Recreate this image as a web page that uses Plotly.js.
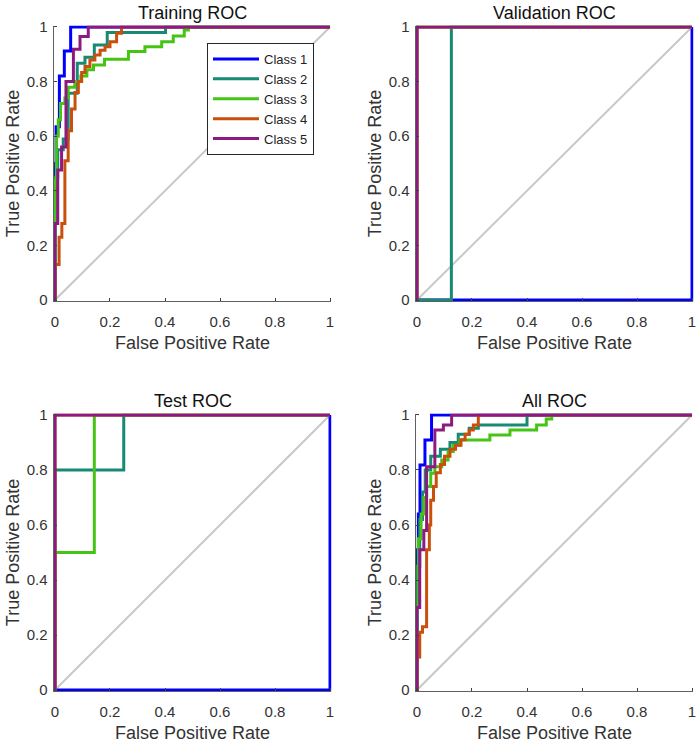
<!DOCTYPE html>
<html>
<head>
<meta charset="utf-8">
<script src="https://cdn.plot.ly/plotly-3.0.1.min.js"></script>
<style>html,body{margin:0;padding:0;background:#fff;}#chart{width:700px;height:743px;}</style>
</head>
<body>
<div id="chart"></div>
<script>
// Class names and colours
const classNames = ['Class 1', 'Class 2', 'Class 3', 'Class 4', 'Class 5'];
const classColors = ['#0000FF', '#168A74', '#46C416', '#C9500C', '#8E1A80'];
const panelTitles = ['Training ROC', 'Validation ROC', 'Test ROC', 'All ROC'];
const tickValues = [0, 0.2, 0.4, 0.6, 0.8, 1];
const tickLabels = ['0', '0.2', '0.4', '0.6', '0.8', '1'];

// ROC step corners (vertical-then-horizontal steps): FPR and TPR per class
const trainingFPR = [
  [0, 0.004, 0.016, 0.034, 0.057, 1],
  [0, 0.01, 0.03, 0.048, 0.081, 0.109, 0.143, 0.19, 0.402, 1],
  [0, 0.005, 0.012, 0.02, 0.036, 0.048, 0.072, 0.094, 0.116, 0.14, 0.18, 0.267, 0.327, 0.388, 0.43, 0.47, 0.485, 1],
  [0, 0.015, 0.025, 0.036, 0.048, 0.06, 0.073, 0.085, 0.097, 0.109, 0.127, 0.145, 0.164, 0.182, 0.2, 0.224, 0.242, 1],
  [0, 0.01, 0.024, 0.04, 0.067, 0.091, 0.121, 1]
];
const trainingTPR = [
  [0, 0.50, 0.635, 0.82, 0.912, 1],
  [0, 0.45, 0.55, 0.59, 0.757, 0.867, 0.889, 0.934, 0.98, 1],
  [0, 0.44, 0.60, 0.66, 0.72, 0.74, 0.779, 0.80, 0.82, 0.843, 0.861, 0.882, 0.91, 0.928, 0.946, 0.967, 0.989, 1],
  [0, 0.13, 0.23, 0.28, 0.51, 0.62, 0.70, 0.76, 0.80, 0.833, 0.855, 0.879, 0.897, 0.915, 0.928, 0.946, 0.977, 1],
  [0, 0.28, 0.476, 0.56, 0.80, 0.918, 0.965, 1]
];
const validationFPR = [[0, 1, 1], [0, 0.125, 1], [0, 1], [0, 1], [0, 1]];
const validationTPR = [[0, 0, 1], [0, 0, 1], [0, 1], [0, 1], [0, 1]];
const testFPR = [[0, 1, 1], [0, 0.25, 1], [0, 0.143, 1], [0, 1], [0, 1]];
const testTPR = [[0, 0, 1], [0, 0.8, 1], [0, 0.5, 1], [0, 1], [0, 1]];
const allFPR = [
  [0, 0.005, 0.011, 0.029, 0.053, 1],
  [0, 0.01, 0.02, 0.03, 0.05, 0.085, 0.12, 0.15, 0.19, 0.223, 0.40, 1],
  [0, 0.005, 0.015, 0.025, 0.035, 0.05, 0.065, 0.09, 0.113, 0.132, 0.156, 0.265, 0.338, 0.435, 0.47, 0.49, 1],
  [0, 0.01, 0.02, 0.035, 0.045, 0.05, 0.06, 0.07, 0.085, 0.10, 0.12, 0.14, 0.16, 0.175, 0.19, 0.205, 0.223, 1],
  [0, 0.01, 0.025, 0.035, 0.065, 0.096, 0.126, 1]
];
const allTPR = [
  [0, 0.51, 0.64, 0.818, 0.909, 1],
  [0, 0.45, 0.62, 0.72, 0.80, 0.85, 0.875, 0.90, 0.93, 0.952, 0.964, 1],
  [0, 0.30, 0.55, 0.64, 0.70, 0.74, 0.788, 0.812, 0.836, 0.867, 0.89, 0.909, 0.927, 0.945, 0.964, 0.985, 1],
  [0, 0.12, 0.21, 0.23, 0.51, 0.60, 0.69, 0.74, 0.79, 0.82, 0.85, 0.875, 0.89, 0.91, 0.93, 0.945, 0.964, 1],
  [0, 0.30, 0.51, 0.58, 0.812, 0.945, 0.964, 1]
];
const diagonal = [0, 1];

const panels = [
  {fpr: trainingFPR, tpr: trainingTPR},
  {fpr: validationFPR, tpr: validationTPR},
  {fpr: testFPR, tpr: testTPR},
  {fpr: allFPR, tpr: allTPR}
];

const font = 'Liberation Sans, Arial, sans-serif';
const traces = [];
panels.forEach((p, pi) => {
  const xa = pi === 0 ? 'x' : 'x' + (pi + 1);
  const ya = pi === 0 ? 'y' : 'y' + (pi + 1);
  traces.push({x: diagonal, y: diagonal, xaxis: xa, yaxis: ya, mode: 'lines',
    line: {color: '#C8C8C8', width: 2}, showlegend: false, hoverinfo: 'skip'});
  for (let c = 0; c < 5; c++) {
    traces.push({x: p.fpr[c], y: p.tpr[c], xaxis: xa, yaxis: ya, mode: 'lines',
      name: classNames[c], line: {color: classColors[c], width: 3, shape: 'vh'},
      showlegend: pi === 0, legendgroup: classNames[c]});
  }
});

const W = 700, H = 743;
const xDomLeft = [53.6 / W, 331.4 / W];
const xDomRight = [415.6 / W, 693.4 / W];
const yDomTop = [1 - 301.4 / H, 1 - 25.6 / H];
const yDomBot = [1 - 691.4 / H, 1 - 413.6 / H];

function xAxis(dom, anchor) {
  return {domain: dom, anchor: anchor, range: [-0.005, 1.005], tickvals: tickValues, ticktext: tickLabels,
    ticks: 'inside', ticklen: 3, tickcolor: '#404040', showline: true, linecolor: '#606060', linewidth: 1,
    showgrid: false, zeroline: false, fixedrange: true, automargin: false,
    tickfont: {family: font, size: 15, color: '#333333'}, ticklabelstandoff: 7,
    title: {text: 'False Positive Rate', font: {family: font, size: 18, color: '#333333'}, standoff: 6}};
}
function yAxis(dom, anchor) {
  return {domain: dom, anchor: anchor, range: [-0.005, 1.005], tickvals: tickValues, ticktext: tickLabels,
    ticks: 'inside', ticklen: 3, tickcolor: '#404040', showline: true, linecolor: '#606060', linewidth: 1,
    showgrid: false, zeroline: false, fixedrange: true, automargin: false,
    tickfont: {family: font, size: 15, color: '#333333'}, ticklabelstandoff: 2,
    title: {text: 'True Positive Rate', font: {family: font, size: 18, color: '#333333'}, standoff: 2}};
}

const titlePos = [
  [(xDomLeft[0] + xDomLeft[1]) / 2, yDomTop[1]],
  [(xDomRight[0] + xDomRight[1]) / 2, yDomTop[1]],
  [(xDomLeft[0] + xDomLeft[1]) / 2, yDomBot[1]],
  [(xDomRight[0] + xDomRight[1]) / 2, yDomBot[1]]
];

const layout = {
  width: W, height: H,
  margin: {l: 0, r: 0, t: 0, b: 0},
  paper_bgcolor: '#ffffff', plot_bgcolor: '#ffffff',
  font: {family: font, color: '#333333'},
  xaxis: xAxis(xDomLeft, 'y'), yaxis: yAxis(yDomTop, 'x'),
  xaxis2: xAxis(xDomRight, 'y2'), yaxis2: yAxis(yDomTop, 'x2'),
  xaxis3: xAxis(xDomLeft, 'y3'), yaxis3: yAxis(yDomBot, 'x3'),
  xaxis4: xAxis(xDomRight, 'y4'), yaxis4: yAxis(yDomBot, 'x4'),
  annotations: panelTitles.map((t, i) => ({text: t, xref: 'paper', yref: 'paper',
    x: titlePos[i][0], y: titlePos[i][1], xanchor: 'center', yanchor: 'bottom', yshift: 1,
    showarrow: false, font: {family: font, size: 18, color: '#111111'}})),
  legend: {x: 207 / W, y: 1 - 43 / H, xanchor: 'left', yanchor: 'top', bgcolor: '#ffffff',
    bordercolor: '#262626', borderwidth: 1, font: {family: font, size: 13, color: '#222222'},
    tracegroupgap: 0, itemwidth: 46},
  showlegend: true
};

Plotly.newPlot('chart', traces, layout, {staticPlot: true, displayModeBar: false});
</script>
</body>
</html>
